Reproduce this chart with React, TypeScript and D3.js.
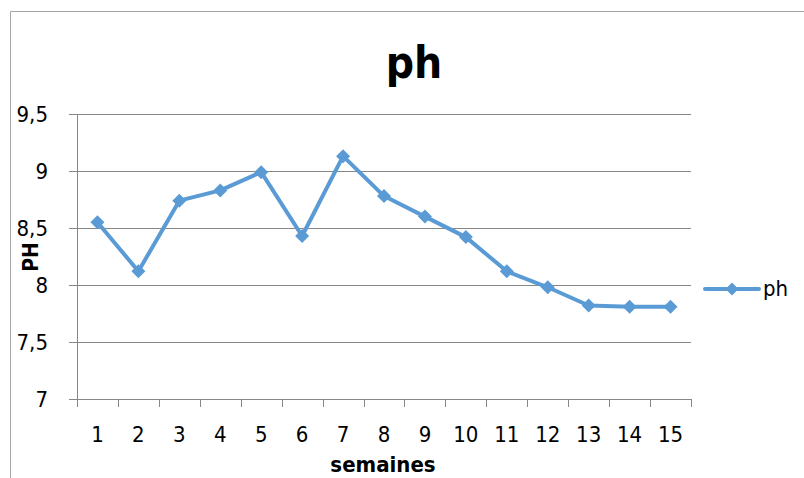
import React from 'react';
import * as d3 from 'd3';

const weeks = ['1', '2', '3', '4', '5', '6', '7', '8', '9', '10', '11', '12', '13', '14', '15'];
const phValues = [8.55, 8.12, 8.74, 8.83, 8.99, 8.43, 9.13, 8.78, 8.6, 8.42, 8.12, 7.98, 7.82, 7.81, 7.81];
const yTicks = [7, 7.5, 8, 8.5, 9, 9.5];
const seriesName = 'ph';
const chartTitle = 'ph';
const xTitle = 'semaines';
const yTitle = 'PH';

const W = 804;
const H = 478;
const margin = { top: 114, right: 113, bottom: 79, left: 77 };
const blue = '#5B9BD5';
const grid = '#878787';
const font = '"Liberation Sans Narrow", "DejaVu Sans Condensed", "Open Sans", sans-serif';

const fmt = (v: number) => String(v).replace('.', ',');

const diamond = (cx: number, cy: number, r: number) =>
  `M${cx},${cy - r}L${cx + r},${cy}L${cx},${cy + r}L${cx - r},${cy}Z`;

export default function App() {
  const x = d3
    .scaleBand<string>()
    .domain(weeks)
    .range([margin.left, W - margin.right]);
  const y = d3
    .scaleLinear()
    .domain([7, 9.5])
    .range([H - margin.bottom, margin.top]);

  const pts = phValues.map((v, i) => [x(weeks[i])! + x.bandwidth() / 2, y(v)] as [number, number]);
  const line = d3.line()(pts) || '';

  const x0 = margin.left;
  const x1 = W - margin.right;
  const yBase = y(7);
  const bounds = weeks.map((w) => x(w)!).concat([x1]);

  return (
    <svg
      width={W}
      height={H}
      style={{ position: 'absolute', left: 0, top: 0, background: '#fff' }}
      fontFamily={font}
    >
      <rect x={0} y={0} width={W} height={H} fill="#fff" />
      {/* outer chart frame */}
      <path d={`M10.5,${H}V11.5H${W}`} fill="none" stroke="#a6a6a6" strokeWidth={1} />

      <text x={414} y={78} textAnchor="middle" fontSize={44} fontWeight="bold" fill="#000">
        {chartTitle}
      </text>

      {/* gridlines */}
      {yTicks.map((t) => (
        <g key={t}>
          <line x1={x0 - 8} x2={x1} y1={Math.round(y(t)) + 0.5} y2={Math.round(y(t)) + 0.5} stroke={grid} strokeWidth={1} />
          <text x={48} y={y(t) + 8} textAnchor="end" fontSize={22} fill="#000">
            {fmt(t)}
          </text>
        </g>
      ))}

      {/* y axis line */}
      <line x1={x0 + 0.5} x2={x0 + 0.5} y1={y(9.5)} y2={yBase} stroke={grid} strokeWidth={1} />
      {/* x axis ticks */}
      {bounds.map((b, i) => (
        <line key={i} x1={Math.round(b) + 0.5} x2={Math.round(b) + 0.5} y1={yBase} y2={yBase + 8} stroke={grid} strokeWidth={1} />
      ))}
      {weeks.map((w) => (
        <text key={w} x={x(w)! + x.bandwidth() / 2} y={442} textAnchor="middle" fontSize={22} fill="#000">
          {w}
        </text>
      ))}

      <text x={383} y={472} textAnchor="middle" fontSize={22} fontWeight="bold" fill="#000">
        {xTitle}
      </text>
      <text
        transform="translate(38,257) rotate(-90)"
        textAnchor="middle"
        fontSize={21}
        fontWeight="bold"
        fill="#000"
      >
        {yTitle}
      </text>

      {/* series */}
      <path d={line} fill="none" stroke={blue} strokeWidth={4} strokeLinejoin="round" />
      {pts.map(([px, py], i) => (
        <path key={i} d={diamond(px, py, 7)} fill={blue} />
      ))}

      {/* legend */}
      <line x1={705} x2={759} y1={289} y2={289} stroke={blue} strokeWidth={4} strokeLinecap="round" />
      <path d={diamond(732, 289, 6.5)} fill={blue} />
      <text x={763} y={296} fontSize={22} fill="#000">
        {seriesName}
      </text>
    </svg>
  );
}
